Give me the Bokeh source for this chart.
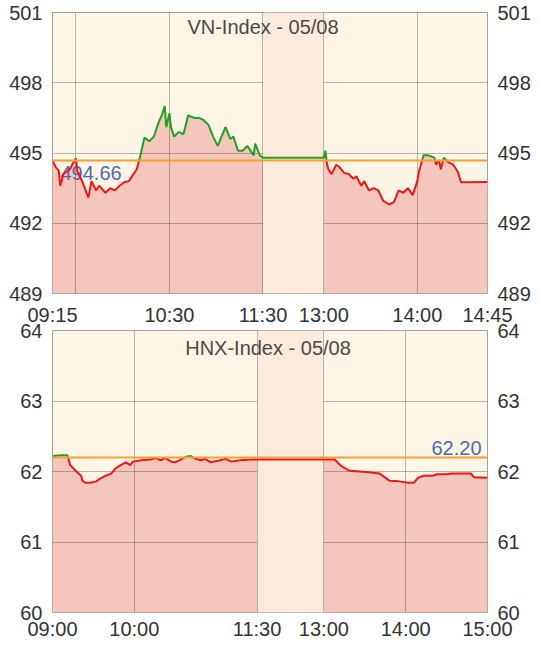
from bokeh.plotting import figure
from bokeh.layouts import column
from bokeh.models import Range1d, LinearAxis, FixedTicker
from bokeh.core.properties import value
from bokeh.embed import file_html
from bokeh.resources import INLINE

# ---------------- data ----------------
VN_TITLE = "VN-Index - 05/08"
VN_REF = 494.66
VN_SESSION = ["09:15", "11:30", "13:00", "14:45"]
VN_YTICKS = [489, 492, 495, 498, 501]
VN_XTICKS = ["09:15", "10:30", "11:30", "13:00", "14:00", "14:45"]
VN_XGRID = ["09:30", "10:30", "11:30", "13:00", "14:00"]
VN_TIMES = ["09:15", "09:17", "09:19", "09:20", "09:22", "09:26", "09:30", "09:31",
            "09:34", "09:38", "09:40", "09:43", "09:45", "09:49", "09:52", "09:55",
            "09:58", "10:01", "10:04", "10:06", "10:09", "10:11", "10:14", "10:17",
            "10:20", "10:23", "10:25", "10:27", "10:28", "10:30", "10:31", "10:33",
            "10:36", "10:39", "10:42", "10:46", "10:49", "10:52", "10:55", "10:58",
            "11:01", "11:04", "11:06", "11:09", "11:11", "11:14", "11:17", "11:20",
            "11:24", "11:25", "11:28", "11:30", "13:00", "13:01", "13:02", "13:03",
            "13:05", "13:08", "13:10", "13:13", "13:16", "13:19", "13:21", "13:24",
            "13:26", "13:29", "13:32", "13:35", "13:38", "13:42", "13:45", "13:48",
            "13:51", "13:54", "13:57", "14:00", "14:01", "14:04", "14:07", "14:11",
            "14:12", "14:14", "14:15", "14:17", "14:20", "14:23", "14:26", "14:28",
            "14:45"]
VN_VALUES = [494.68, 494.40, 494.25, 493.60, 494.10, 494.30, 494.78, 494.20,
             493.80, 493.10, 493.80, 493.40, 493.60, 493.30, 493.50, 493.40,
             493.60, 493.75, 493.80, 494.00, 494.30, 494.80, 495.66, 495.50,
             495.70, 496.30, 496.60, 497.00, 496.10, 496.70, 496.10, 495.70,
             495.90, 495.80, 496.60, 496.50, 496.50, 496.40, 496.20, 495.70,
             495.30, 495.80, 496.10, 495.60, 495.70, 495.10, 495.10, 495.30,
             494.90, 495.40, 494.90, 494.80, 494.80, 495.10, 494.55, 494.30,
             494.10, 494.50, 494.40, 494.15, 494.10, 493.90, 494.00, 493.60,
             493.80, 493.40, 493.50, 493.40, 492.97, 492.80, 492.90, 493.40,
             493.30, 493.50, 493.20, 493.80, 494.20, 494.90, 494.90, 494.80,
             494.50, 494.70, 494.30, 494.80, 494.60, 494.50, 494.20, 493.75,
             493.76]

HNX_TITLE = "HNX-Index - 05/08"
HNX_REF = 62.20
HNX_SESSION = ["09:00", "11:30", "13:00", "15:00"]
HNX_YTICKS = [60, 61, 62, 63, 64]
HNX_XTICKS = ["09:00", "10:00", "11:30", "13:00", "14:00", "15:00"]
HNX_XGRID = ["10:00", "11:30", "13:00", "14:00"]
HNX_TIMES = ["09:00", "09:06", "09:11", "09:13", "09:17", "09:21", "09:22", "09:24",
             "09:28", "09:32", "09:35", "09:39", "09:43", "09:46", "09:50", "09:54",
             "09:57", "09:59", "10:05", "10:12", "10:16", "10:19", "10:23", "10:27",
             "10:30", "10:34", "10:38", "10:41", "10:45", "10:49", "10:52", "10:56",
             "11:03", "11:07", "11:11", "11:14", "11:18", "11:25", "11:30", "13:00",
             "13:08", "13:12", "13:15", "13:19", "13:26", "13:33", "13:41", "13:48",
             "13:55", "14:02", "14:06", "14:09", "14:13", "14:20", "14:23", "14:30",
             "14:34", "14:48", "14:50", "15:00"]
HNX_VALUES = [62.22, 62.23, 62.23, 62.09, 62.01, 61.94, 61.87, 61.84,
              61.84, 61.86, 61.90, 61.94, 61.97, 62.04, 62.09, 62.13,
              62.09, 62.14, 62.16, 62.17, 62.19, 62.16, 62.19, 62.14,
              62.13, 62.17, 62.21, 62.22, 62.18, 62.16, 62.18, 62.13,
              62.16, 62.18, 62.14, 62.15, 62.16, 62.17, 62.17, 62.17,
              62.17, 62.09, 62.05, 62.01, 62.00, 61.99, 61.97, 61.87,
              61.86, 61.84, 61.84, 61.91, 61.94, 61.94, 61.96, 61.96,
              61.97, 61.97, 61.92, 61.91]

# ---------------- styles ----------------
FONT = "Liberation Sans"
CREAM = "#FDF5E6"
PINK = "#F4C6BC"
BAND = "#FCEBDC"
RED = "#F01616"
GREEN = "#22A022"
ORANGE = "#F4A232"
BLUE = "#4E6DAF"
LABEL_C = "#333333"
TITLE_C = "#4A4A4A"


def tmin(t):
    h, m = t.split(":")
    return int(h) * 60 + int(m)


def make_mapper(session, brk):
    o, ls, le, c = [tmin(s) for s in session]

    def f(t):
        m = tmin(t)
        if m <= ls:
            return m - o
        if m >= le:
            return (ls - o) + brk + (m - le)
        return (ls - o) + brk * (m - ls) / (le - ls)
    return f


def split_by_ref(xs, ys, ref):
    above, below = [], []
    cur_x, cur_y = [xs[0]], [ys[0]]
    state = ys[0] >= ref
    for i in range(1, len(xs)):
        x0, y0, x1, y1 = xs[i - 1], ys[i - 1], xs[i], ys[i]
        s1 = y1 >= ref
        if s1 != state:
            t = (ref - y0) / (y1 - y0)
            xc = x0 + t * (x1 - x0)
            cur_x.append(xc); cur_y.append(ref)
            (above if state else below).append((cur_x, cur_y))
            cur_x, cur_y = [xc], [ref]
            state = s1
        cur_x.append(x1); cur_y.append(y1)
    (above if state else below).append((cur_x, cur_y))
    return above, below


def style_axis(ax, ticks, standoff, overrides=None):
    ax.ticker = FixedTicker(ticks=ticks)
    ax.axis_line_color = None
    ax.major_tick_line_color = None
    ax.minor_tick_line_color = None
    ax.major_tick_out = 0
    ax.major_tick_in = 0
    ax.minor_tick_out = 0
    ax.minor_tick_in = 0
    ax.major_label_standoff = standoff
    ax.major_label_text_font = FONT
    ax.major_label_text_font_size = "20px"
    ax.major_label_text_color = LABEL_C
    if overrides:
        ax.major_label_overrides = overrides


def build(title, ref, session, brk, yticks, xgrid, times, values, ref_label_side,
          frame_h, border_top, border_bottom, title_dx, title_dy):
    fx = make_mapper(session, brk)
    x_end = fx(session[3])
    ymin, ymax = yticks[0], yticks[-1]
    p = figure(frame_width=435, frame_height=frame_h,
               x_range=Range1d(0, x_end), y_range=Range1d(ymin, ymax),
               toolbar_location=None, output_backend="svg",
               x_axis_location=None, y_axis_location="left",
               min_border_left=52, min_border_right=52,
               min_border_top=border_top, min_border_bottom=border_bottom,
               background_fill_color=CREAM, border_fill_color="white",
               outline_line_color="#A0A0A0", outline_line_width=1)
    for g in p.grid:
        g.visible = False
    style_axis(p.yaxis[0], yticks, 10)
    rax = LinearAxis()
    style_axis(rax, yticks, 10)
    p.add_layout(rax, "right")

    xs = [fx(t) for t in times]
    p.varea(x=xs, y1=[ymin] * len(xs), y2=values, fill_color=PINK)
    p.hspan(y=yticks[1:-1], line_color="black", line_alpha=0.26, line_width=1)
    p.quad(left=[fx(session[1])], right=[fx(session[2])], bottom=[ymin], top=[ymax],
           fill_color=BAND, line_color=None)
    p.vspan(x=[fx(t) for t in xgrid], line_color="black", line_alpha=0.26, line_width=1)

    txt = f"{ref:.2f}"
    if ref_label_side == "left":
        p.text(x=[0], y=[ref], text=[txt], text_font=value(FONT),
               text_font_size=value("20px"), text_color=BLUE,
               text_align="left", text_baseline="top", x_offset=8, y_offset=5)
    else:
        p.text(x=[x_end], y=[ref], text=[txt], text_font=value(FONT),
               text_font_size=value("20px"), text_color=BLUE,
               text_align="right", text_baseline="bottom", x_offset=-6, y_offset=-2)

    above, below = split_by_ref(xs, values, ref)
    if below:
        p.multi_line(xs=[s[0] for s in below], ys=[s[1] for s in below],
                     line_color=RED, line_width=2)
    if above:
        p.multi_line(xs=[s[0] for s in above], ys=[s[1] for s in above],
                     line_color=GREEN, line_width=2)
    p.hspan(y=[ref], line_color=ORANGE, line_width=2)

    p.text(x=[x_end / 2], y=[ymax], text=[title], text_font=value(FONT),
           text_font_size=value("20px"), text_color=TITLE_C,
           text_align="center", text_baseline="top", x_offset=title_dx, y_offset=title_dy)
    return p, fx


# top chart keeps room below its frame for its lowest tick label;
# the bottom chart (transparent border) is pulled up over that room.
p1, fx1 = build(VN_TITLE, VN_REF, VN_SESSION, 39, VN_YTICKS, VN_XGRID,
                VN_TIMES, VN_VALUES, "left", 281, 12, 15, -7, 3)
p2, fx2 = build(HNX_TITLE, HNX_REF, HNX_SESSION, 49, HNX_YTICKS, HNX_XGRID,
                HNX_TIMES, HNX_VALUES, "right", 282, 30, 28, -2, 6)
p2.border_fill_alpha = 0
p2.margin = (-8, 0, 0, 0)

# bottom axis of the HNX chart
bax = LinearAxis()
style_axis(bax, [fx2(t) for t in HNX_XTICKS], 5,
           {fx2(t): t for t in HNX_XTICKS})
p2.add_layout(bax, "below")

# VN time axis, drawn in the gap above the HNX chart
p2.extra_x_ranges = {"vn": Range1d(0, fx1(VN_SESSION[3]))}
tax = LinearAxis(x_range_name="vn")
style_axis(tax, [fx1(t) for t in VN_XTICKS], 5,
           {fx1(t): t for t in VN_XTICKS})
p2.add_layout(tax, "above")

layout = column(p1, p2)
open("out.html", "w").write(file_html(layout, INLINE))
